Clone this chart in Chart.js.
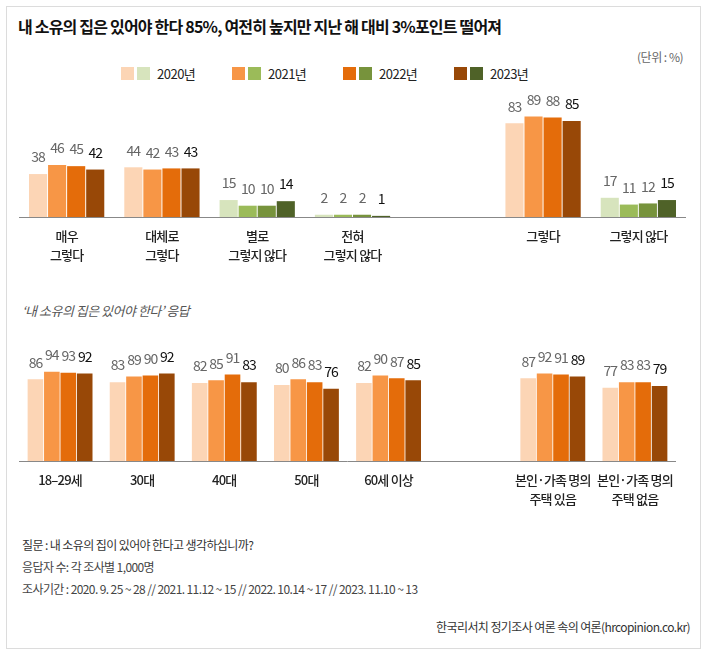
<!DOCTYPE html>
<html>
<head>
<meta charset="utf-8">
<script src="https://cdn.jsdelivr.net/npm/chart.js@4"></script>
<style>
  body { margin: 0; background: #fff; font-family: "Noto Sans CJK KR", sans-serif; }
  #wrap { position: relative; width: 707px; height: 654px; }
  #frame { position: absolute; left: 6px; top: 6px; width: 693px; height: 641px; border: 1px solid #dcdcdc; }
  .txt { position: absolute; white-space: nowrap; line-height: 1; }
  #title { left: 18px; top: 18px; font-size: 16px; font-weight: 700; color: #111; letter-spacing: -0.8px; }
  #unit { right: 24px; top: 51px; font-size: 12px; color: #666; letter-spacing: -0.5px; }
  #legend { position: absolute; left: 121px; top: 64px; display: flex; }
  .item { display: flex; align-items: center; width: 111px; font-size: 13px; color: #222; letter-spacing: -0.5px; }
  .sw { width: 13px; height: 13px; margin-right: 3px; }
  .item span { margin-left: 4px; }
  #sub { left: 22px; top: 304px; font-size: 13px; font-style: italic; color: #555; letter-spacing: -0.5px; }
  .foot { left: 22px; font-size: 12px; color: #333; letter-spacing: -0.6px; }
  #src { right: 17px; top: 621px; font-size: 12px; color: #333; letter-spacing: -0.6px; }
  canvas { position: absolute; }
</style>
</head>
<body>
<div id="wrap">
  <div id="frame"></div>
  <div class="txt" id="title">내 소유의 집은 있어야 한다 85%, 여전히 높지만 지난 해 대비 3%포인트 떨어져</div>
  <div class="txt" id="unit">(단위 : %)</div>
  <div id="legend"></div>
  <div style="position:absolute;left:19px;top:85px;width:667px;height:182px;"><canvas id="top"></canvas></div>
  <div class="txt" id="sub">‘내 소유의 집은 있어야 한다’ 응답</div>
  <div style="position:absolute;left:19px;top:340px;width:667px;height:171px;"><canvas id="bottom"></canvas></div>
  <div class="txt foot" style="top:539px;">질문 : 내 소유의 집이 있어야 한다고 생각하십니까?</div>
  <div class="txt foot" style="top:561px;color:#444;">응답자 수: 각 조사별 1,000명</div>
  <div class="txt foot" style="top:583px;color:#444;">조사기간 : 2020. 9. 25 ~ 28 // 2021. 11.12 ~ 15 // 2022. 10.14 ~ 17 // 2023. 11.10 ~ 13</div>
  <div class="txt" id="src">한국리서치 정기조사 여론 속의 여론(hrcopinion.co.kr)</div>
</div>
<script>
const years = ["2020년", "2021년", "2022년", "2023년"];
const orange = ["#FCD5B5", "#F79646", "#E46C0A", "#984807"];
const green = ["#D7E4BD", "#9BBB59", "#77933C", "#4F6228"];

// 위쪽 : 응답 분포 (빈 칸은 간격)
const topLabels = [["매우", "그렇다"], ["대체로", "그렇다"], ["별로", "그렇지 않다"], ["전혀", "그렇지 않다"], "", "그렇다", "그렇지 않다"];
const topTone = ["o", "o", "g", "g", "o", "o", "g"];
const top2020 = [38, 44, 15, 2, null, 83, 17];
const top2021 = [46, 42, 10, 2, null, 89, 11];
const top2022 = [45, 43, 10, 2, null, 88, 12];
const top2023 = [42, 43, 14, 1, null, 85, 15];

// 아래쪽 : '있어야 한다' 응답
const botLabels = ["18–29세", "30대", "40대", "50대", "60세 이상", "", ["본인·가족 명의", "주택 있음"], ["본인·가족 명의", "주택 없음"]];
const bot2020 = [86, 83, 82, 80, 82, null, 87, 77];
const bot2021 = [94, 89, 85, 86, 90, null, 92, 83];
const bot2022 = [93, 90, 91, 83, 87, null, 91, 83];
const bot2023 = [92, 92, 83, 76, 85, null, 89, 79];

// 범례
const legend = document.querySelector("#legend");
years.forEach((y, i) => {
  legend.innerHTML += `<div class="item"><div class="sw" style="background:${orange[i]}"></div><div class="sw" style="background:${green[i]}"></div><span>${y}</span></div>`;
});

// 눈금 글자 간격을 좁힘
const tightText = {
  id: "tightText",
  beforeDraw(chart) { chart.ctx.letterSpacing = "-0.8px"; },
  afterDraw(chart) { chart.ctx.letterSpacing = "0px"; }
};

const valueLabels = {
  id: "valueLabels",
  afterDatasetsDraw(chart) {
    const ctx = chart.ctx;
    ctx.save();
    ctx.font = "14px 'Noto Sans CJK KR'";
    ctx.letterSpacing = "-1px";
    ctx.textAlign = "center";
    ctx.textBaseline = "middle";
    chart.data.datasets.forEach((ds, di) => {
      ctx.fillStyle = di === 3 ? "#111" : "#666";
      chart.getDatasetMeta(di).data.forEach((bar, i) => {
        const v = ds.data[i];
        if (v == null) return;
        ctx.fillText(v, bar.x, bar.y - 17);
      });
    });
    ctx.restore();
  }
};

function makeChart(id, labels, series, tones, padTop) {
  const datasets = series.map((data, i) => ({
    label: years[i],
    data: data,
    backgroundColor: tones.map(t => t === "g" ? green[i] : orange[i]),
    barPercentage: 0.95,
    categoryPercentage: 0.8
  }));
  return new Chart(document.getElementById(id), {
    type: "bar",
    data: { labels: labels, datasets: datasets },
    plugins: [tightText, valueLabels],
    options: {
      responsive: true,
      maintainAspectRatio: false,
      animation: false,
      layout: { padding: { top: padTop, left: 0, right: 0, bottom: 0 } },
      plugins: { legend: { display: false }, tooltip: { enabled: false } },
      scales: {
        x: {
          grid: { display: false, drawTicks: false },
          border: { display: true, color: "#888", width: 1 },
          ticks: {
            padding: 10,
            color: "#222",
            maxRotation: 0,
            autoSkip: false,
            font: { family: "'Noto Sans CJK KR'", size: 13, weight: 500, lineHeight: 1.45 }
          },
          afterFit: s => { s.height = 50; }
        },
        y: { display: false, min: 0, max: 100 }
      }
    }
  });
}

makeChart("top", topLabels, [top2020, top2021, top2022, top2023], topTone, 19);
makeChart("bottom", botLabels, [bot2020, bot2021, bot2022, bot2023], botLabels.map(() => "o"), 26);
</script>
</body>
</html>
